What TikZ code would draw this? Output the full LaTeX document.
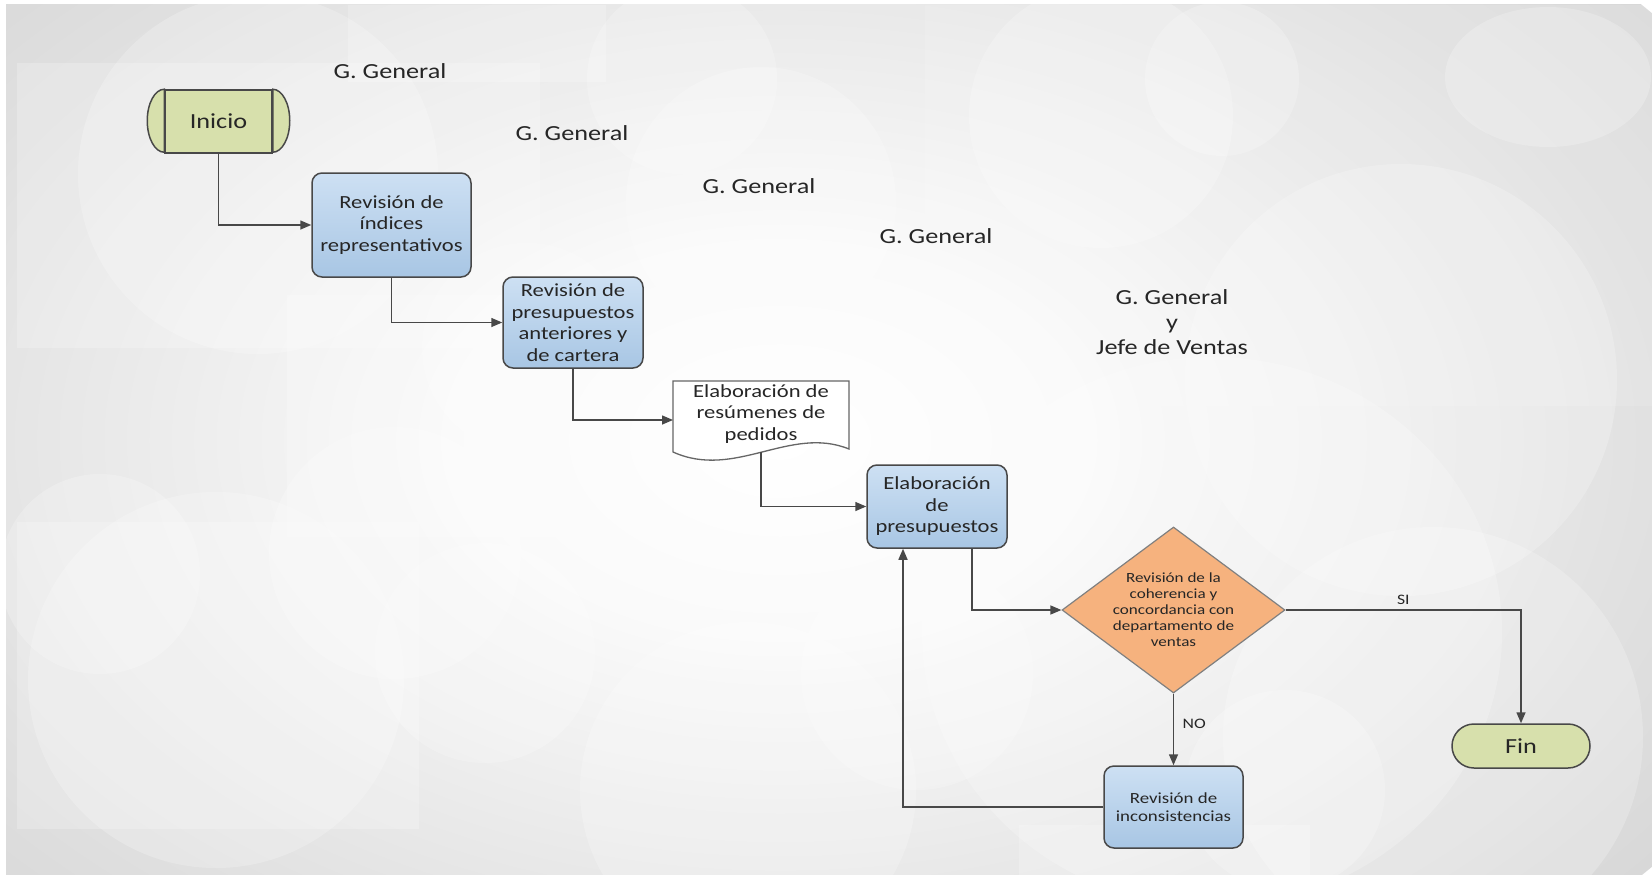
\documentclass[tikz,border=0pt]{standalone}
\usepackage{fontspec}
\setmainfont{Carlito}[FakeStretch=1.22]
\usetikzlibrary{shapes.geometric,arrows.meta,calc}
\pgfdeclarelayer{back}
\pgfsetlayers{back,main}
% soft light in the middle of the grey backdrop
\pgfdeclareradialshading{bgglow}{\pgfpoint{0bp}{0bp}}{color(0bp)=(white); color(7bp)=(white!98!black); color(20bp)=(black!12); color(35bp)=(black!22); color(50bp)=(black!27)}
\definecolor{termfill}{RGB}{215,224,172}
\definecolor{boxtop}{RGB}{205,224,243}
\definecolor{boxbot}{RGB}{168,198,228}
\definecolor{decfill}{RGB}{246,178,126}
\definecolor{edgecol}{RGB}{72,72,72}
\definecolor{txt}{RGB}{38,38,38}

\begin{document}
\begin{tikzpicture}[x=1pt,y=-1pt,
  outline/.style={draw=edgecol, line width=1.5pt},
  proc/.style={outline, rounded corners=10pt, top color=boxtop, bottom color=boxbot,
    align=center, text=txt, font=\fontsize{18.5}{21.5}\selectfont},
  term/.style={outline, fill=termfill, text=txt, font=\fontsize{21.5}{25}\selectfont},
  boxtext/.style={align=center, text=txt, font=\fontsize{18.5}{21.5}\selectfont},
  dectext/.style={align=center, text=txt, font=\fontsize{14}{16}\selectfont},
  role/.style={align=center, text=txt, font=\fontsize{21.5}{25}\selectfont},
  yesno/.style={text=txt, font=\fontsize{14.5}{17}\selectfont},
  conn/.style={draw=edgecol, line width=1.5pt, -{Triangle[length=11pt,width=9pt]}},
  glow/.style={fill=white, fill opacity=0.22, draw=none}]
\useasboundingbox (0,0) rectangle (1652,875);

% ---------- backdrop ----------
\begin{pgfonlayer}{back}
  \fill[white] (0,0) rectangle (1652,875);
  \begin{scope}
    \clip (6,5) rectangle (1652,875);
    \shade[shading=bgglow] (780,440) ellipse [x radius=1100pt, y radius=700pt];
    % pale panels
    \fill[glow] (348,5) rectangle (606,82);
    \fill[glow] (17,63) rectangle (540,348);
    \fill[glow] (287,295) rectangle (822,537);
    \fill[glow] (17,522) rectangle (419,829);
    \fill[glow] (1019,825) rectangle (1310,875);
    \fill[glow, fill opacity=0.12] (925,5) rectangle (1652,406);
    % pale discs
    \fill[glow] (258,174) circle[radius=180pt];
    \fill[glow] (682,79) circle[radius=95pt];
    \fill[glow] (761,202) circle[radius=135pt];
    \fill[glow] (1101,116) circle[radius=132pt];
    \fill[glow] (1222,79) circle[radius=77pt];
    \fill[glow] (1548,77) ellipse[x radius=103pt, y radius=70pt];
    \fill[glow] (1401,380) circle[radius=216pt];
    \fill[glow] (1212,632) ellipse[x radius=290pt, y radius=275pt];
    \fill[glow] (100,574) circle[radius=100pt];
    \fill[glow] (395,553) circle[radius=126pt];
    \fill[glow] (485,653) circle[radius=110pt];
    \fill[glow] (216,680) circle[radius=188pt];
    \fill[glow] (748,790) circle[radius=168pt];
    \fill[glow] (917,674) circle[radius=116pt];
    \fill[glow] (1433,737) circle[radius=210pt];
    \fill[glow] (1285,790) circle[radius=100pt];
    \fill[glow] (527,348) circle[radius=105pt];
  \end{scope}
\end{pgfonlayer}

% ---------- responsible roles ----------
\node[role] (r1) at (390,71) {G. General};
\node[role] (r2) at (572,133) {G. General};
\node[role] (r3) at (759,186) {G. General};
\node[role] (r4) at (936,236) {G. General};
\node[role] (r5) at (1172,322) {G. General\\y\\Jefe de Ventas};

% ---------- flow steps ----------
\node[term, minimum width=107pt, minimum height=63pt, inner sep=0pt] (inicio) at (218.5,121.5) {Inicio};
\node[proc, minimum width=159pt, minimum height=104pt] (idx) at (391.5,225) {Revisión de\\índices\\representativos};
\node[proc, minimum width=140pt, minimum height=91pt, inner sep=2pt] (pres) at (573,322.5) {Revisión de\\presupuestos\\anteriores y\\de cartera};
\node[boxtext, inner sep=0pt] (doc) at (761,414) {Elaboración de\\resúmenes de\\pedidos};
\node[proc, minimum width=140pt, minimum height=83pt, inner sep=2pt] (elab) at (937,506.5) {Elaboración\\de\\presupuestos};
\node[diamond, draw=black!50, line width=1.2pt, fill=decfill, inner sep=0pt,
      minimum width=223pt, minimum height=166pt,
      label={[dectext]center:Revisión de la\\coherencia y\\concordancia con\\departamento de\\ventas}] (dec) at (1173.5,610) {};
\node[proc, minimum width=139pt, minimum height=82pt, font=\fontsize{15.5}{18.5}\selectfont] (inc) at (1173.5,807) {Revisión de\\inconsistencias};
\node[term, rounded corners=22pt, minimum width=138pt, minimum height=44pt, inner sep=0pt] (fin) at (1521,746) {Fin};

% rounded caps of the start terminal and the wavy document outline
\begin{pgfonlayer}{back}
  \filldraw[outline, fill=termfill] (inicio.north west) arc[start angle=90, end angle=270, x radius=17pt, y radius=31.5pt] -- cycle;
  \filldraw[outline, fill=termfill] (inicio.north east) arc[start angle=90, end angle=-90, x radius=17pt, y radius=31.5pt] -- cycle;
  \filldraw[draw=black!60, line width=1.3pt, fill=white]
    ([shift={(-88,-33)}]doc.center) -- ([shift={(88,-33)}]doc.center)
    -- ([shift={(88,35)}]doc.center)
    .. controls ([shift={(29,11)}]doc.center) and ([shift={(-26,66)}]doc.center) ..
    ([shift={(-88,38)}]doc.center) -- cycle;
\end{pgfonlayer}

% ---------- connectors ----------
\draw[conn] (inicio.south) |- (idx.west);
\draw[conn] (idx.south) |- (pres.west);
\draw[conn] (pres.south) |- ([shift={(-88,6)}]doc.center);
\draw[conn] ([shift={(0,38)}]doc.center) |- (elab.west);
\draw[conn] ([xshift=35pt]elab.south) |- (dec.west);
\draw[conn] (dec.south) -- node[yesno, pos=0.42, right=5pt] {NO} (inc.north);
\draw[conn] (dec.east) -| node[yesno, pos=0.25, above=1pt] {SI} (fin.north);
\draw[conn] (inc.west) -| ([xshift=-34pt]elab.south);
\end{tikzpicture}
\end{document}
